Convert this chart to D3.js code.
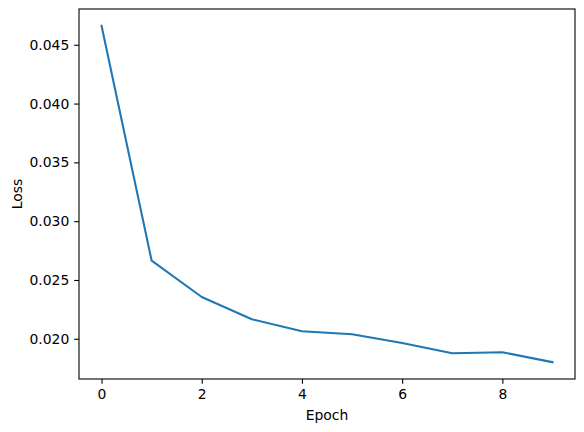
<!DOCTYPE html>
<html>
<head>
<meta charset="utf-8">
<script src="https://cdn.jsdelivr.net/npm/d3@7"></script>
<style>
  body { margin: 0; background: #fff; }
  text { font-family: "DejaVu Sans", sans-serif; }
</style>
</head>
<body>
<div id="chart"></div>
<script>
// Loss per epoch
let epochs = [0, 1, 2, 3, 4, 5, 6, 7, 8, 9];
let losses = [0.04661, 0.02664, 0.02355, 0.02166, 0.02064, 0.02038, 0.01964, 0.01877, 0.01885, 0.01801];
let xTicks = [0, 2, 4, 6, 8];
let yTicks = [0.020, 0.025, 0.030, 0.035, 0.040, 0.045];

let width = 584;
let height = 432;
let plot = { left: 79, right: 575, top: 9, bottom: 379 };

let svg = d3.select("#chart")
    .append("svg")
    .attr("width", width)
    .attr("height", height);

// matplotlib style 5% padding on both axes
function padded(ext) {
    let pad = (ext[1] - ext[0]) * 0.05;
    return [ext[0] - pad, ext[1] + pad];
}

let x = d3.scaleLinear()
    .domain(padded(d3.extent(epochs)))
    .range([plot.left, plot.right]);

let y = d3.scaleLinear()
    .domain(padded(d3.extent(losses)))
    .range([plot.bottom, plot.top]);

let tickSize = 4.86;
let tickPad = 4.86;

let xAxis = svg.append("g")
    .attr("transform", `translate(0, ${plot.bottom})`)
    .call(d3.axisBottom(x).tickValues(xTicks).tickFormat(d3.format("d"))
        .tickSize(tickSize).tickPadding(tickPad).tickSizeOuter(0));

let yAxis = svg.append("g")
    .attr("transform", `translate(${plot.left}, 0)`)
    .call(d3.axisLeft(y).tickValues(yTicks).tickFormat(d3.format(".3f"))
        .tickSize(tickSize).tickPadding(tickPad).tickSizeOuter(0));

[xAxis, yAxis].forEach(ax => {
    ax.select(".domain").remove();
    ax.selectAll(".tick line").attr("stroke", "#000").attr("stroke-width", 1.1);
    ax.selectAll(".tick text")
        .attr("fill", "#000")
        .style("font-size", "13.9px")
        .style("font-family", "DejaVu Sans");
});

// frame
svg.append("rect")
    .attr("x", plot.left)
    .attr("y", plot.top)
    .attr("width", plot.right - plot.left)
    .attr("height", plot.bottom - plot.top)
    .attr("fill", "none")
    .attr("stroke", "#000")
    .attr("stroke-width", 1.1);

let line = d3.line()
    .x((d, i) => x(epochs[i]))
    .y(d => y(d));

svg.append("path")
    .datum(losses)
    .attr("d", line)
    .attr("fill", "none")
    .attr("stroke", "#1f77b4")
    .attr("stroke-width", 2.08)
    .attr("stroke-linejoin", "round")
    .attr("stroke-linecap", "square");

// axis labels
svg.append("text")
    .attr("x", (plot.left + plot.right) / 2)
    .attr("y", 420)
    .attr("text-anchor", "middle")
    .style("font-size", "13.9px")
    .text("Epoch");

svg.append("text")
    .attr("transform", `translate(22, ${(plot.top + plot.bottom) / 2}) rotate(-90)`)
    .attr("text-anchor", "middle")
    .style("font-size", "13.9px")
    .text("Loss");
</script>
</body>
</html>
